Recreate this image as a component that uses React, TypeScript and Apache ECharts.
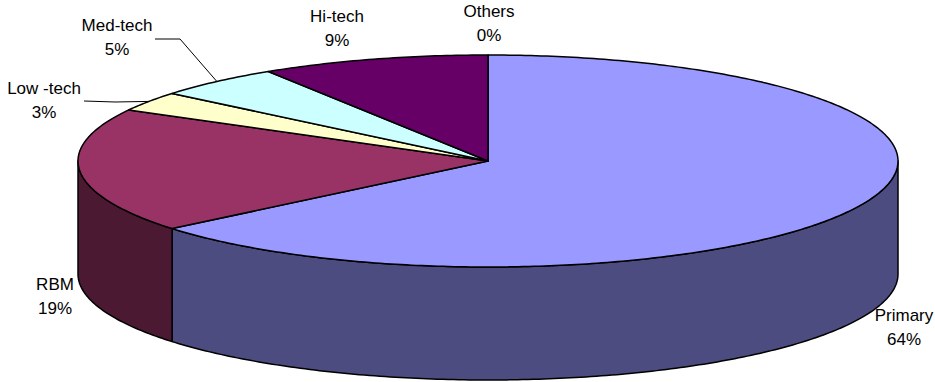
import React, { useEffect, useRef } from "react";
import * as echarts from "echarts";

// Sector shares (percent), in drawing order clockwise from 12 o'clock
const categories = ["Primary", "RBM", "Low -tech", "Med-tech", "Hi-tech", "Others"];
const shares = [64, 19, 3, 5, 9, 0];

// Face colours: top faces and the darker shaded rim
const topColors = ["#9999FF", "#993366", "#FFFFCC", "#CCFFFF", "#660066", "#FF8080"];
const sideColors = ["#4C4C80", "#4C1933", "#808066", "#668080", "#330033", "#804040"];

// Label block centres and leader-line elbows (layout)
const labelAnchors: number[][] = [
  [904, 327],
  [55, 296],
  [44, 100],
  [117, 37],
  [337, 28],
  [489, 23],
];
const leaderElbows: (number[][] | null)[] = [
  null,
  null,
  [
    [84, 101],
    [115, 102],
  ],
  [
    [155, 39],
    [180, 39],
  ],
  null,
  null,
];

const WIDTH = 935;
const HEIGHT = 382;
const CX = 488;
const CY = 161;
const RX = 410;
const RY = 106;
const DEPTH = 113;
const FONT = '"Liberation Sans", Arial, Helvetica, sans-serif';

const total = shares.reduce((a, b) => a + b, 0);
const startAngles: number[] = [];
{
  let acc = 0;
  for (const v of shares) {
    startAngles.push((acc / total) * 360);
    acc += v;
  }
}

// Point on the tilted disc; angle in degrees clockwise from 12 o'clock
function discPoint(deg: number, dy = 0): number[] {
  const r = (deg * Math.PI) / 180;
  return [CX + RX * Math.sin(r), CY - RY * Math.cos(r) + dy];
}

function arcPoints(a0: number, a1: number, dy = 0): number[][] {
  const n = Math.max(2, Math.ceil(Math.abs(a1 - a0) / 0.75));
  const pts: number[][] = [];
  for (let i = 0; i <= n; i++) pts.push(discPoint(a0 + ((a1 - a0) * i) / n, dy));
  return pts;
}

function renderSlice(params: any, api: any) {
  const i = params.dataIndex;
  const v = api.value(0) as number;
  const a0 = startAngles[i];
  const a1 = a0 + (v / total) * 360;
  const children: any[] = [];

  if (v > 0) {
    // visible part of the rim lies on the front half (90..270 deg)
    const s0 = Math.max(a0, 90);
    const s1 = Math.min(a1, 270);
    if (s1 > s0) {
      children.push({
        type: "polygon",
        z2: 1,
        shape: { points: [...arcPoints(s0, s1), ...arcPoints(s1, s0, DEPTH)] },
        style: { fill: sideColors[i], stroke: "#000", lineWidth: 1.5, lineJoin: "round" },
      });
    }
    children.push({
      type: "polygon",
      z2: 2,
      shape: { points: [[CX, CY], ...arcPoints(a0, a1)] },
      style: { fill: topColors[i], stroke: "#000", lineWidth: 1.5, lineJoin: "round" },
    });
  }

  const elbows = leaderElbows[i];
  if (elbows) {
    const mid = (a0 + a1) / 2;
    children.push({
      type: "polyline",
      z2: 3,
      shape: { points: [...elbows, discPoint(mid)] },
      style: { stroke: "#000", lineWidth: 1, fill: "none" },
    });
  }

  const pct = Math.round((v / total) * 100);
  const [lx, ly] = labelAnchors[i];
  children.push({
    type: "text",
    z2: 4,
    x: lx,
    y: ly,
    style: {
      text: `${categories[i]}\n${pct}%`,
      align: "center",
      verticalAlign: "middle",
      fontSize: 17,
      fontFamily: FONT,
      lineHeight: 24,
      fill: "#000",
    },
  });

  return { type: "group", children };
}

export default function App() {
  const ref = useRef<HTMLDivElement>(null);

  useEffect(() => {
    document.body.style.margin = "0";
    if (!ref.current) return;
    const chart = echarts.init(ref.current, undefined, { renderer: "svg" });
    chart.setOption({
      animation: false,
      backgroundColor: "#FFFFFF",
      series: [
        {
          type: "custom",
          coordinateSystem: "none",
          renderItem: renderSlice,
          data: categories.map((name, i) => ({ name, value: [shares[i]] })),
          silent: true,
        },
      ],
    });
    return () => chart.dispose();
  }, []);

  return <div ref={ref} style={{ width: WIDTH, height: HEIGHT }} />;
}
